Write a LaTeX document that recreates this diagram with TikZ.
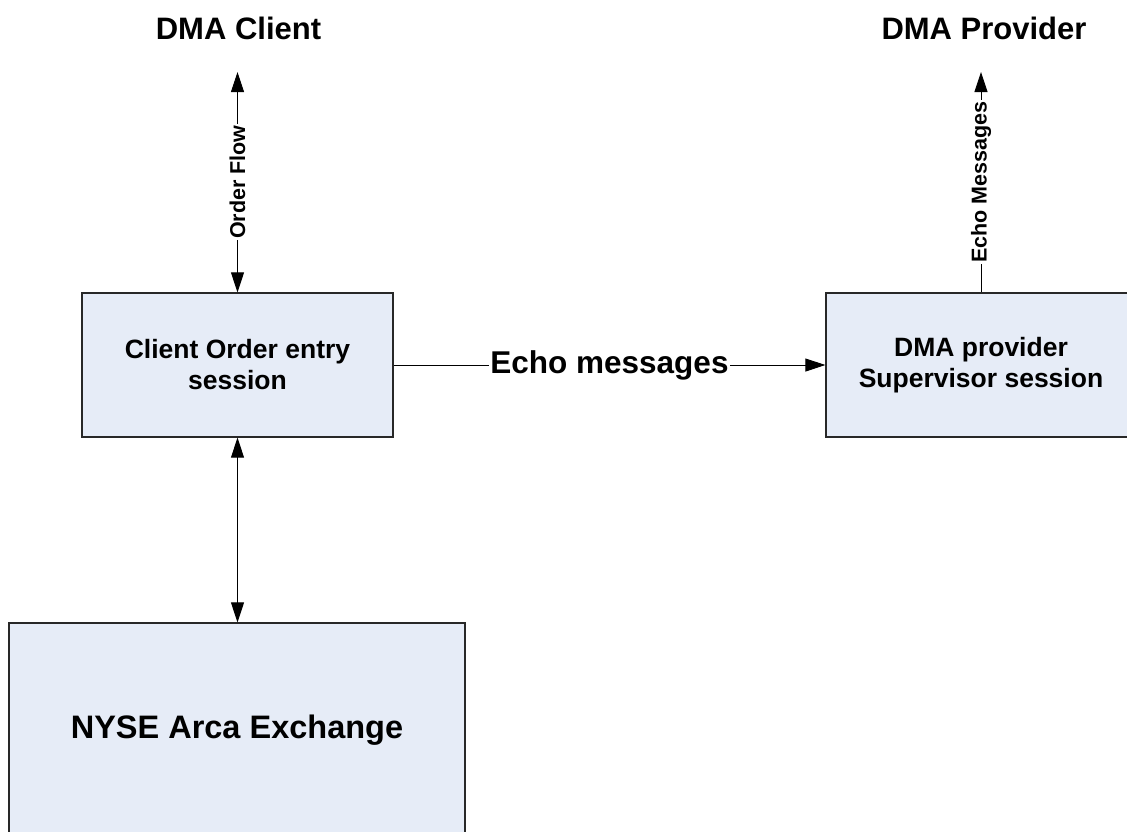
\documentclass[tikz,border=0pt]{standalone}
\usepackage{fontspec}
\setmainfont{Liberation Sans}
\usetikzlibrary{arrows.meta}
\definecolor{boxfill}{RGB}{230,236,247}
\definecolor{boxline}{RGB}{40,40,40}
\begin{document}
\begin{tikzpicture}[x=1pt,y=-1pt,
  boxnode/.style={draw=boxline, line width=1.3pt, fill=boxfill, rectangle, inner sep=0pt, align=center, font=\bfseries\fontsize{26.5}{31}\selectfont},
  titlenode/.style={font=\bfseries\fontsize{31}{36}\selectfont, inner sep=0pt},
  conn/.style={line width=0.9pt, draw=black, -{Triangle[length=20pt,width=13pt]}},
  dconn/.style={line width=0.9pt, draw=black, {Triangle[length=20pt,width=13pt]}-{Triangle[length=20pt,width=13pt]}},
  vlabel/.style={fill=white, inner sep=1.5pt, rotate=90, font=\bfseries\fontsize{21.5}{25}\selectfont},
  hlabel/.style={fill=white, inner sep=1.5pt, font=\bfseries\fontsize{31.5}{36}\selectfont}]
\useasboundingbox (0,0) rectangle (1127,831);
\fill[white] (0,0) rectangle (1127,831);
\node[boxnode, minimum width=311pt, minimum height=144pt] (client) at (237.5,365) {Client Order entry\\session};
\node[boxnode, minimum width=310pt, minimum height=144pt] (prov) at (981,365) {DMA provider\\Supervisor session};
\node[boxnode, minimum width=456pt, minimum height=214pt, font=\bfseries\fontsize{32.5}{38}\selectfont] (nyse) at (237,730) {NYSE Arca Exchange};
\node[titlenode] (dmaclient) at (238.5,28) {DMA Client};
\node[titlenode] (dmaprov) at (984,28) {DMA Provider};
\coordinate (top1) at (237.5,72);
\coordinate (top2) at (981,72);
\draw[dconn] (top1) -- node[vlabel] {Order Flow} (client.north);
\draw[conn] (prov.north) -- node[vlabel] {Echo Messages} (top2);
\draw[conn] (client.east) -- node[hlabel] {Echo messages} (prov.west);
\draw[dconn] (client.south) -- (client.south |- nyse.north);
\end{tikzpicture}
\end{document}
